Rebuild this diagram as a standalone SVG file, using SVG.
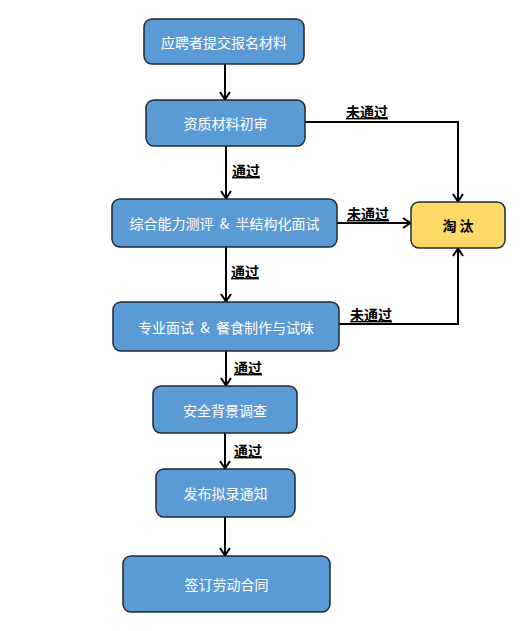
<svg xmlns="http://www.w3.org/2000/svg" width="524" height="631" viewBox="0 0 524 631">
<defs>
<marker id="arr" viewBox="0 0 12 12" refX="11" refY="6" markerWidth="12" markerHeight="12" markerUnits="userSpaceOnUse" orient="auto">
<polyline points="3,1 10.5,6 3,11" fill="none" stroke="#000" stroke-width="2"/>
</marker>
<style>
.n rect{fill:#5B9BD5;stroke:#1f2a33;stroke-width:1.5}
.n text{fill:#fff;font-family:"Noto Sans CJK SC","Liberation Sans",sans-serif;font-size:14px;text-anchor:middle;dominant-baseline:central;white-space:pre}
.y rect{fill:#FFD966;stroke:#1f2a33;stroke-width:1.5}
.y text{fill:#000;font-weight:bold;font-family:"Noto Sans CJK SC","Liberation Sans",sans-serif;font-size:14px;text-anchor:middle;dominant-baseline:central;white-space:pre}
.c path{fill:none;stroke:#000;stroke-width:2;marker-end:url(#arr)}
.c text{fill:#000;font-weight:bold;font-family:"Noto Sans CJK SC","Liberation Sans",sans-serif;font-size:14px;text-decoration:underline}
</style>
</defs>
<rect width="524" height="631" fill="#fff"/>
<g class="c" id="connectors">
<path d="M225,64 V100"/>
<path d="M226,146 V199"/>
<path d="M226,247 V302"/>
<path d="M226,351 V386"/>
<path d="M225,433 V469"/>
<path d="M225,517 V556"/>
<path d="M305,122 H458 V202"/>
<path d="M337,223 H411"/>
<path d="M339,324 H458 V248"/>
<text x="232" y="176">通过</text>
<text x="231" y="277">通过</text>
<text x="234" y="373">通过</text>
<text x="234" y="456">通过</text>
<text x="346" y="117">未通过</text>
<text x="347" y="219">未通过</text>
<text x="350" y="320">未通过</text>
</g>
<g class="n" id="n1"><rect x="144" y="19" width="160" height="45" rx="8"/><text x="224" y="41.5">应聘者提交报名材料</text></g>
<g class="n" id="n2"><rect x="146" y="100" width="159" height="46" rx="8"/><text x="225.5" y="123">资质材料初审</text></g>
<g class="n" id="n3"><rect x="112" y="199" width="225" height="48" rx="8"/><text x="224.5" y="223">综合能力测评  &amp;  半结构化面试</text></g>
<g class="n" id="n4"><rect x="113" y="302" width="226" height="49" rx="8"/><text x="226" y="326.5">专业面试  &amp;  餐食制作与试味</text></g>
<g class="n" id="n5"><rect x="153" y="386" width="144" height="47" rx="8"/><text x="225" y="409.5">安全背景调查</text></g>
<g class="n" id="n6"><rect x="156" y="469" width="139" height="48" rx="8"/><text x="225.5" y="493">发布拟录通知</text></g>
<g class="n" id="n7"><rect x="123" y="556" width="207" height="56" rx="8"/><text x="226.5" y="584">签订劳动合同</text></g>
<g class="y" id="n8"><rect x="411" y="202" width="94" height="46" rx="8"/><text x="458" y="225">淘 汰</text></g>
</svg>
